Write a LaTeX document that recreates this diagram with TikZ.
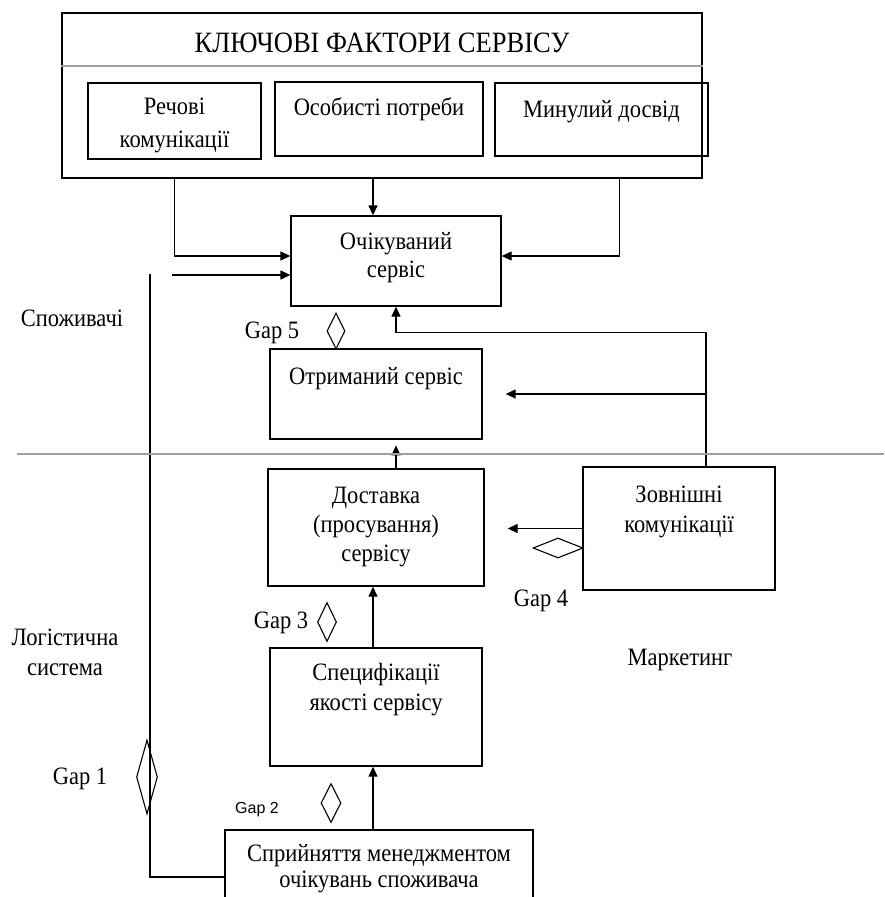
\documentclass[tikz,border=0pt]{standalone}
\usepackage{fontspec}
\setmainfont{Liberation Serif}[FakeStretch=0.9]
\newfontfamily\gapsans{Liberation Sans}
\usetikzlibrary{arrows.meta,positioning,shapes.geometric}
\tikzset{
  blk/.style={draw, rectangle, line width=1.3pt, inner sep=0pt},
  txt/.style={align=center, inner sep=0pt, font=\fontsize{25}{29}\selectfont,
              execute at begin node={\rule{0pt}{25pt}}},
  ttl/.style={inner sep=0pt, anchor=base, font=\fontsize{29.5}{32}\selectfont},
  gp/.style={diamond, draw, line width=1.1pt, inner sep=0pt},
  arr/.style={-{Triangle[length=10pt,width=9pt]}, line width=1.3pt},
  ln/.style={line width=1.3pt},
  divl/.style={line width=2.6pt, gray!75}
}
\begin{document}
\begin{tikzpicture}[x=1pt,y=-1pt]
  \useasboundingbox[fill=white] (0,0) rectangle (884,897);

  % key factors
  \node[blk, minimum width=640, minimum height=165] (kf) at (382,95.5) {};
  \draw[divl, line width=2pt] ([yshift=-54pt]kf.north west) -- ([yshift=-54pt]kf.north east);
  \node[ttl] (kf-t) at (382,52) {КЛЮЧОВІ ФАКТОРИ СЕРВІСУ};
  \node[blk, minimum width=173, minimum height=76] (rech) at (174.5,121) {};
  \node[txt, below=15pt of rech.north, font=\fontsize{25}{33}\selectfont] (rech-t) {Речові\\комунікації};
  \node[blk, minimum width=208, minimum height=74] (osob) at (379,119) {};
  \node[txt, below=9pt of osob.north] (osob-t) {Особисті потреби};
  \node[blk, minimum width=213, minimum height=73] (min) at (601.5,119.5) {};
  \node[txt, below=10pt of min.north] (min-t) {Минулий досвід};

  % consumers
  \node[blk, minimum width=210, minimum height=90] (ochik) at (396,261) {};
  \node[txt, below=17pt of ochik.north, font=\fontsize{25}{28}\selectfont] (ochik-t) {Очікуваний\\сервіс};
  \node[blk, minimum width=212, minimum height=90] (otr) at (376,394) {};
  \node[txt, below=11pt of otr.north] (otr-t) {Отриманий сервіс};
  \node[txt, anchor=base] (spoz) at (72,326) {Споживачі};

  % logistics / marketing
  \node[blk, minimum width=216, minimum height=117] (dost) at (376,527.5) {};
  \node[txt, below=19pt of dost.north] (dost-t) {Доставка\\(просування)\\сервісу};
  \node[blk, minimum width=192, minimum height=123] (zovn) at (679,528.5) {};
  \node[txt, below=19pt of zovn.north, font=\fontsize{25}{30}\selectfont] (zovn-t) {Зовнішні\\комунікації};
  \node[blk, minimum width=212, minimum height=118] (spec) at (376,707) {};
  \node[txt, below=16pt of spec.north, font=\fontsize{25}{30}\selectfont] (spec-t) {Специфікації\\якості сервісу};
  \node[blk, minimum width=308, minimum height=76] (sprin) at (379,868) {};
  \node[txt, below=15pt of sprin.north, font=\fontsize{25}{26}\selectfont] (sprin-t) {Сприйняття менеджментом\\очікувань споживача};
  \node[txt, anchor=north, font=\fontsize{25}{30}\selectfont] (logist) at (65,629) {Логістична\\система};
  \node[txt, anchor=base] (mark) at (680,665) {Маркетинг};

  % gaps
  \node[gp, minimum width=18, minimum height=36] (g5) at (336,331) {};
  \node[txt, anchor=base] (g5-t) at (272,338) {Gap 5};
  \node[gp, minimum width=50, minimum height=20] (g4) at (558,548) {};
  \node[txt, anchor=base] (g4-t) at (541,606) {Gap 4};
  \node[gp, minimum width=19, minimum height=39] (g3) at (327,622) {};
  \node[txt, anchor=base] (g3-t) at (281,628) {Gap 3};
  \node[gp, minimum width=20, minimum height=39] (g2) at (331,803) {};
  \node[inner sep=0pt, anchor=base, font=\gapsans\fontsize{16}{18}\selectfont] (g2-t) at (257,813) {Gap 2};
  \node[gp, minimum width=21, minimum height=74] (g1) at (147,777) {};
  \node[txt, anchor=base] (g1-t) at (80,784) {Gap 1};

  \coordinate (in2) at (172,275);
  \coordinate (gtop) at (150,274);
  \coordinate (dl) at (17,454);
  \coordinate (dr) at (884,454);
  \coordinate (otr-in) at ([xshift=23pt]otr.east);

  % connectors
  \draw[arr] (rech.south |- kf.south) |- ([yshift=5pt]ochik.west);
  \draw[arr] ([xshift=-6pt]osob.south |- kf.south) -- ([xshift=-6pt]osob.south |- ochik.north);
  \draw[arr] ([xshift=18pt]min.south |- kf.south) |- ([yshift=5pt]ochik.east);
  \draw[arr] (in2) -- ([yshift=-14pt]ochik.west);
  \draw[ln] (gtop) |- ([yshift=-9pt]sprin.west);
  \draw[arr] ([xshift=27pt]zovn.north) |- ([yshift=-26pt]ochik.south) -- (ochik.south);
  \draw[arr] ([xshift=27pt]zovn.north |- otr-in) -- (otr-in);
  \draw[arr] (dost.north -| ochik.south) -- ++(0,-23);
  \draw[arr] (zovn.west) -- ([xshift=23pt]dost.east |- zovn.west);
  \draw[arr] ([xshift=-3pt]spec.north) -- ([xshift=-3pt]dost.south);
  \draw[arr] ([xshift=-3pt]spec.south |- sprin.north) -- ([xshift=-3pt]spec.south);
  \draw[divl] (dl) -- (dr);
\end{tikzpicture}
\end{document}
